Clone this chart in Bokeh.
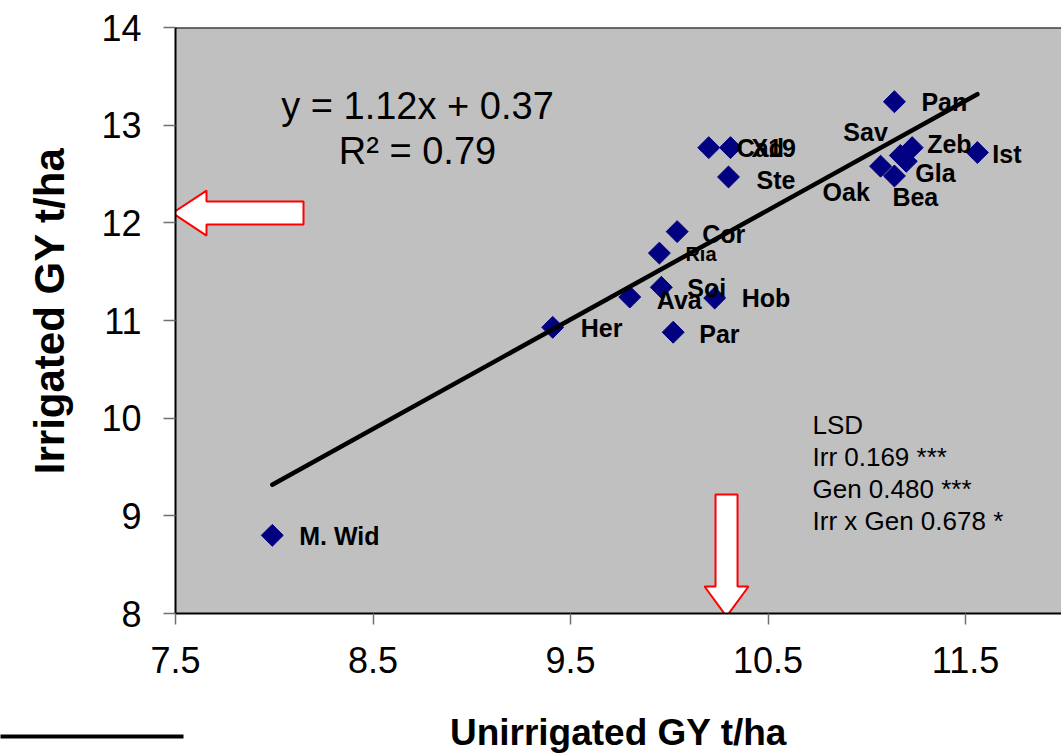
import math
from bokeh.plotting import figure
from bokeh.layouts import column
from bokeh.models import Range1d, FixedTicker, Span, ColumnDataSource, Title
from bokeh.core.properties import value
from bokeh.embed import file_html
from bokeh.resources import INLINE

# ---------------- data ----------------
names = ["M. Wid", "Her", "Ava", "Soi", "Hob", "Par", "Ria", "Cor", "Cad", "X19",
         "Ste", "Pan", "Ist", "Zeb", "Sav", "Gla", "Oak", "Bea"]
unirrigated = [7.99, 9.41, 9.80, 9.96, 10.23, 10.02, 9.95, 10.04, 10.20, 10.31,
               10.30, 11.14, 11.56, 11.23, 11.17, 11.20, 11.07, 11.14]
irrigated = [8.80, 10.93, 11.24, 11.34, 11.23, 10.88, 11.69, 11.91, 12.77, 12.77,
             12.47, 13.24, 12.72, 12.77, 12.69, 12.63, 12.58, 12.48]

slope = 1.12
intercept = 0.37
r_squared = 0.79

lsd_lines = ["LSD", "Irr 0.169 ***", "Gen 0.480 ***", "Irr x Gen 0.678 *"]

x_ticks = [7.5, 8.5, 9.5, 10.5, 11.5]
y_ticks = [8, 9, 10, 11, 12, 13, 14]

mean_irrigated = 12.1
mean_unirrigated = 10.29

x_title = "Unirrigated GY t/ha"
y_title = "Irrigated GY t/ha"

# ---------------- styling / layout ----------------
FONT = "Liberation Sans"
W, H = 1061, 753
MAIN_H = 700
B_LEFT, B_RIGHT, B_TOP = 175, 0, 27
FW = W - B_LEFT - B_RIGHT          # 886
FH = 586
B_BOTTOM = MAIN_H - B_TOP - FH     # 87
X0, X1 = 7.5, 11.986
Y0, Y1 = 8, 14
ux = (X1 - X0) / FW  # data per px
uy = (Y1 - Y0) / FH


def px2x(px):
    return X0 + (px - B_LEFT) * ux


def py2y(py):
    return Y1 - (py - B_TOP) * uy


# label offsets in pixels (styling)
label_dx = [27, 28, 27, 26, 27, 26, 26, 25, 28, 21, 28, 27, 15, 15, -57, 9, -58, -2]
label_dy = [1, 1, 3, 1, 0, 2, 1, 2, 0, 0, 3, 0, 1, -4, -23, 12, 26, 21]
label_size = ["25px"] * len(names)
label_size[names.index("Ria")] = "20px"

p = figure(width=W, height=MAIN_H, frame_width=FW, frame_height=FH,
           x_range=Range1d(X0, X1), y_range=Range1d(Y0, Y1),
           output_backend="svg", toolbar_location=None,
           min_border_left=B_LEFT, min_border_right=B_RIGHT,
           min_border_top=B_TOP, min_border_bottom=B_BOTTOM)
p.background_fill_color = "#C0C0C0"
p.border_fill_color = "white"
p.outline_line_color = None
p.xgrid.grid_line_color = None
p.ygrid.grid_line_color = None

for ax, ticks, standoff in ((p.xaxis, x_ticks, 22), (p.yaxis, y_ticks, 22)):
    ax.ticker = FixedTicker(ticks=ticks)
    ax.axis_line_color = "black"
    ax.axis_line_width = 2
    ax.major_tick_line_color = "#707070"
    ax.major_tick_line_width = 1.5
    ax.major_tick_in = 0
    ax.minor_tick_line_color = None
    ax.major_label_text_font = FONT
    ax.major_label_text_font_size = "36px"
    ax.major_label_text_color = "black"
    ax.major_label_standoff = standoff
p.xaxis.major_tick_out = 11
p.yaxis.major_tick_out = 12

# y-axis title (left side), its upper end placed below the frame top
p.add_layout(Title(text=y_title, align="right", vertical_align="top", offset=120, standoff=48,
                   text_font=FONT, text_font_style="bold", text_font_size="42px",
                   text_color="black"), "left")

# top border of plot area
p.add_layout(Span(location=Y1, dimension="width", line_color="black", line_width=2))

src = ColumnDataSource(dict(x=unirrigated, y=irrigated, name=names,
                            dx=label_dx, dy=label_dy, size=label_size))

p.scatter("x", "y", source=src, marker="square", angle=math.pi / 4, size=15.5,
          fill_color="#000080", line_color="#000080", line_width=1)

p.text("x", "y", text="name", source=src, x_offset="dx", y_offset="dy",
       text_font=value(FONT), text_font_style="bold", text_font_size="size",
       text_color="black", text_align="left", text_baseline="middle")

# regression line
xmin, xmax = min(unirrigated), max(unirrigated)
p.line([xmin, xmax], [slope * xmin + intercept, slope * xmax + intercept],
       line_color="black", line_width=4.5, line_cap="round")

# equation text
eq_x = px2x(417)
p.text([eq_x, eq_x], [py2y(105), py2y(150)],
       text=[f"y = {slope:.2f}x + {intercept:.2f}", f"R\u00b2 = {r_squared:.2f}"],
       text_font=value(FONT), text_font_size="38px", text_color="black",
       text_align="center", text_baseline="middle")

# LSD text
lsd_src = ColumnDataSource(dict(x=[px2x(812)] * len(lsd_lines), y=[py2y(424)] * len(lsd_lines),
                                t=lsd_lines, off=[i * 32 for i in range(len(lsd_lines))]))
p.text("x", "y", text="t", source=lsd_src, y_offset="off", text_font=value(FONT),
       text_font_size="26px", text_color="black", text_align="left",
       text_baseline="middle")

# arrows (red outline, white fill)
ax_pts = [(0, 0), (34, 22.5), (34, 11.5), (131, 11.5), (131, -11.5), (34, -11.5), (34, -22.5)]
tipx, tipy = X0 - 3 * ux, mean_irrigated
p.patch([tipx + dx * ux for dx, dy in ax_pts], [tipy + dy * uy for dx, dy in ax_pts],
        fill_color="white", line_color="red", line_width=2)
dn_pts = [(0, 0), (-22, 30), (-11, 30), (-11, 122), (11, 122), (11, 30), (22, 30)]
tipx, tipy = mean_unirrigated, Y0 - 3 * uy
p.patch([tipx + dx * ux for dx, dy in dn_pts], [tipy + dy * uy for dx, dy in dn_pts],
        fill_color="white", line_color="red", line_width=2)

# bottom strip: x-axis title; a short rule at the far left drawn as one long axis tick
BOT_H = H - MAIN_H
RULE_Y = 736
pb = figure(width=W, height=BOT_H, frame_width=FW, frame_height=BOT_H,
            x_range=Range1d(B_LEFT, W), y_range=Range1d(H, MAIN_H),
            output_backend="svg", toolbar_location=None, x_axis_type=None,
            min_border_left=B_LEFT, min_border_right=0, min_border_top=0, min_border_bottom=0)
pb.outline_line_color = None
pb.background_fill_color = "white"
pb.border_fill_color = "white"
pb.xgrid.grid_line_color = None
pb.ygrid.grid_line_color = None
pb.yaxis.ticker = FixedTicker(ticks=[RULE_Y])
pb.yaxis.major_label_overrides = {RULE_Y: ""}
pb.yaxis.axis_line_color = None
pb.yaxis.minor_tick_line_color = None
pb.yaxis.major_tick_out = B_LEFT
pb.yaxis.major_tick_in = 8
pb.yaxis.major_tick_line_width = 4
pb.yaxis.major_tick_line_color = "black"
pb.yaxis.major_label_standoff = 0
pb.text([B_LEFT + FW / 2], [732], text=[x_title], text_font=value(FONT),
        text_font_style="bold", text_font_size="37px", text_color="black",
        text_align="center", text_baseline="middle")

layout = column(p, pb, spacing=0)
open("out.html", "w").write(file_html(layout, INLINE))
